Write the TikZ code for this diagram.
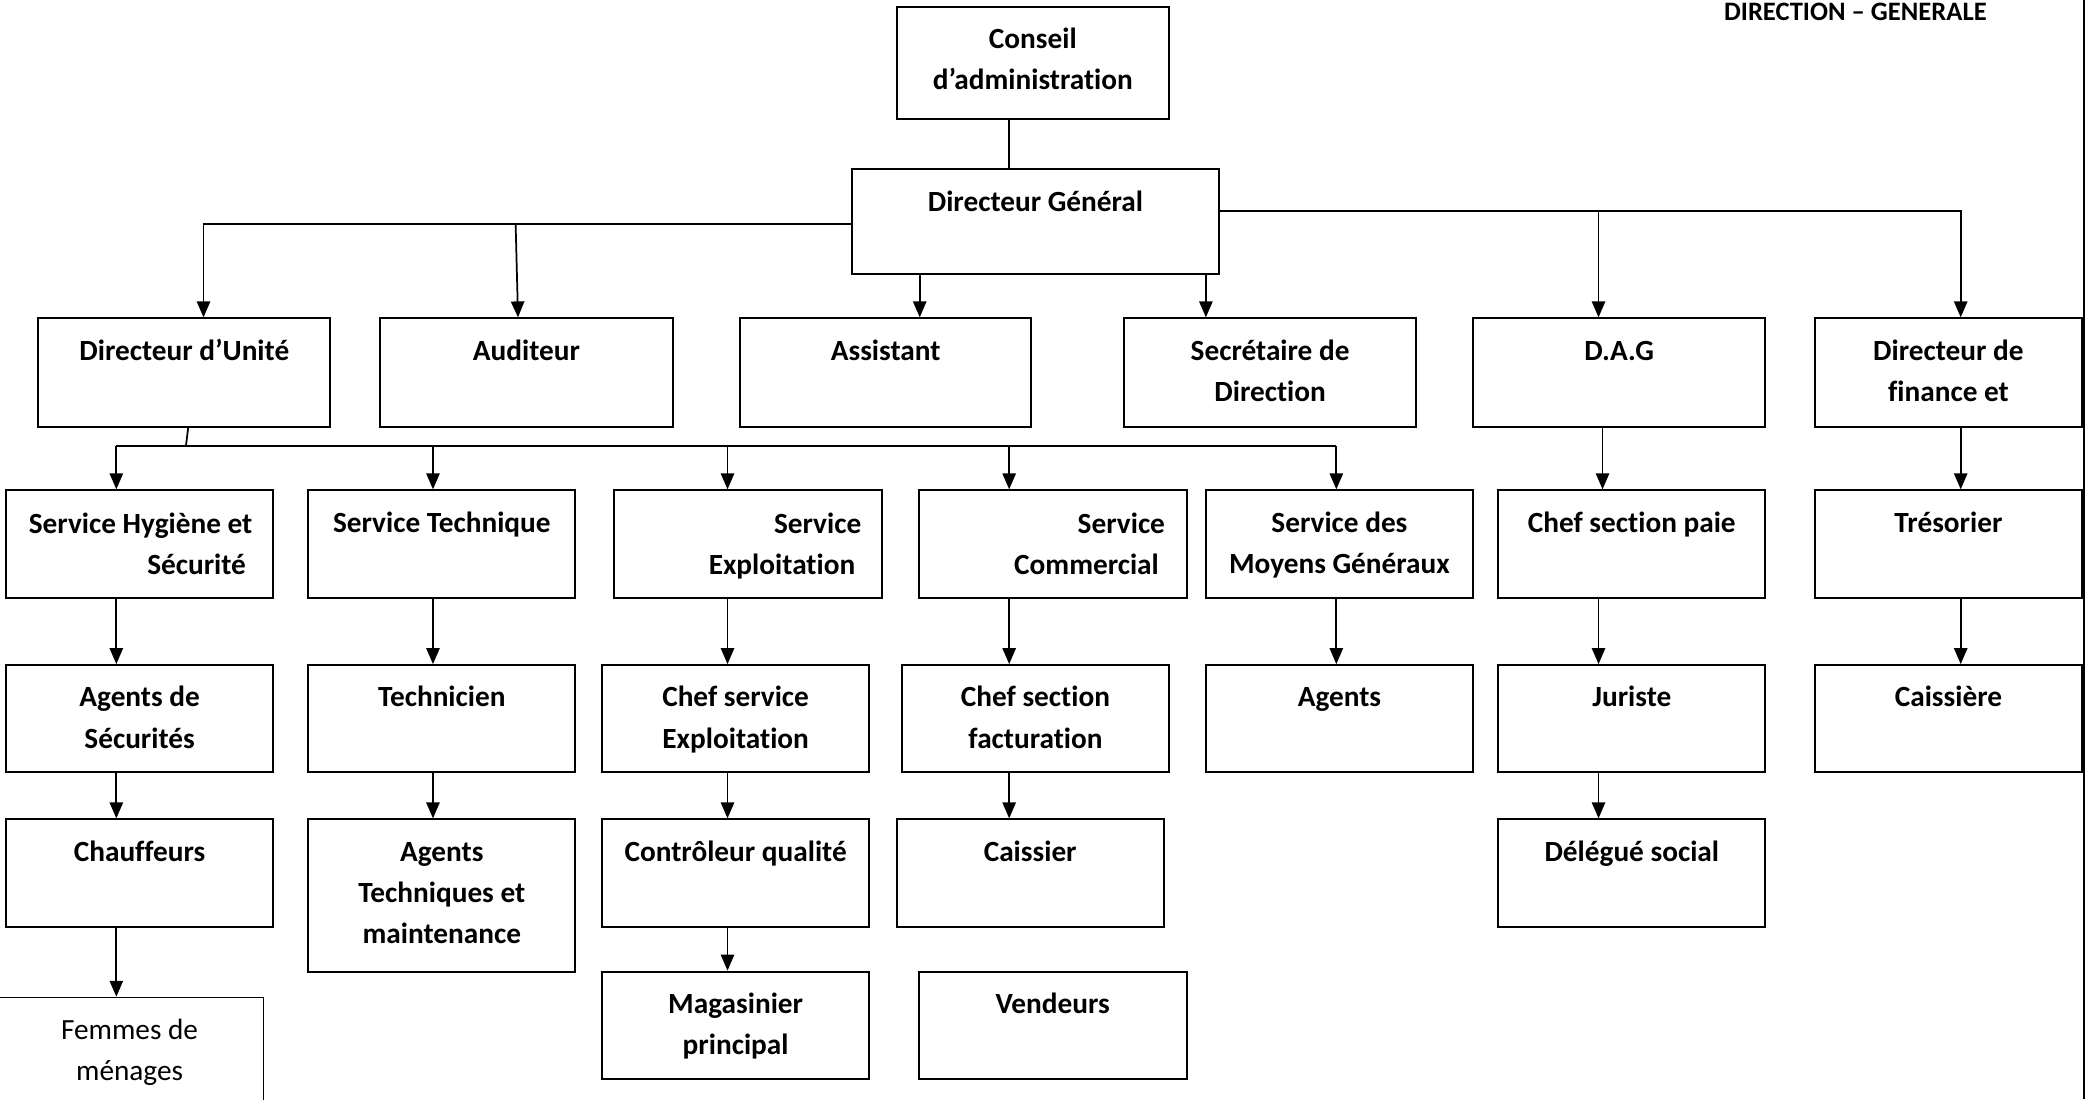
\documentclass[tikz,border=0pt]{standalone}
\usepackage{fontspec}
\setmainfont{Carlito}[Ligatures={NoCommon}]
\usetikzlibrary{arrows.meta}

\tikzset{
  box/.style={draw=black, line width=1.5pt, rectangle, inner sep=0pt},
  thinbox/.style={draw=black, line width=0.9pt, rectangle, inner sep=0pt},
  lbl/.style={inner sep=0pt, align=center, font=\fontsize{22}{31}\selectfont\bfseries},
  conn/.style={draw=black, line width=1.3pt},
  arr/.style={conn, -{Triangle[length=12pt, width=10pt]}},
}
% strut fixing the height of a label's first line
\newcommand\fl{\rule{0pt}{17pt}}
% \obox[style]{name}{x1}{y1}{x2}{y2}: empty framed box between two corners
\newcommand\obox[6][box]{%
  \node[#1, minimum width={(#5-#3)*1pt}, minimum height={(#6-#4)*1pt}] (#2)
    at ({(#3+#5)/2},{(#4+#6)/2}) {};}
% \olab{name}{text}: label hanging from the top edge of a box
\newcommand\olab[2]{\node[lbl, anchor=north] (#1-l) at ([yshift=-15pt]#1.north) {\fl #2};}

\begin{document}
\begin{tikzpicture}[x=1pt, y=-1pt]
\useasboundingbox (0,0) rectangle (1568,826);
\clip (0,0) rectangle (1568,826);

% ---- top of the hierarchy
\obox{conseil}{673.7}{5}{878.3}{89.6}
\olab{conseil}{Conseil\\d’administration}
\obox{dg}{640}{127.2}{915.9}{205.9}
\olab{dg}{Directeur Général}

% ---- first level
\obox{unite}{28.7}{239.2}{248.3}{320.6}
\olab{unite}{Directeur d’Unité}
\obox{auditeur}{285.7}{239.2}{505.3}{320.6}
\olab{auditeur}{Auditeur}
\obox{assistant}{555.9}{239.2}{774.9}{320.6}
\olab{assistant}{Assistant}
\obox{secretaire}{844.4}{239.2}{1064.1}{320.6}
\olab{secretaire}{Secrétaire de\\Direction}
\obox{dag}{1106.7}{239.2}{1326.4}{320.6}
\olab{dag}{D.A.G}
\obox{finance}{1363.8}{239.2}{1564}{320.6}
\olab{finance}{Directeur de\\finance et}

% ---- services
\obox{hygiene}{4.6}{368.4}{205.2}{449.2}
\node[lbl, align=right, anchor=north east] (hygiene-l) at (189.8,383.4)
  {\fl Service Hygiène et\\Sécurité\hspace*{4.8pt}};
\obox{technique}{231.6}{368.4}{432.3}{449.2}
\olab{technique}{Service Technique}
\obox{exploitation}{461.6}{368.4}{662.7}{449.2}
\node[lbl, align=right, anchor=north east] (exploitation-l) at (647.3,383.4)
  {\fl Service\\Exploitation\hspace*{4.6pt}};
\obox{commercial}{690.3}{368.4}{891.5}{449.2}
\node[lbl, align=right, anchor=north east] (commercial-l) at (875.5,383.4)
  {\fl Service\\Commercial\hspace*{4.6pt}};
\obox{moyens}{906}{368.4}{1106.7}{449.2}
\olab{moyens}{Service des\\Moyens Généraux}
\obox{paie}{1125.6}{368.4}{1326.4}{449.2}
\olab{paie}{Chef section paie}
\obox{tresorier}{1363.8}{368.4}{1564}{449.2}
\olab{tresorier}{Trésorier}

% ---- third level
\obox{agsec}{4.6}{499.7}{205.2}{580.1}
\olab{agsec}{Agents de\\Sécurités}
\obox{technicien}{231.6}{499.7}{432.3}{580.1}
\olab{technicien}{Technicien}
\obox{chefexpl}{452.4}{499.7}{653}{580.1}
\olab{chefexpl}{Chef service\\Exploitation}
\obox{facturation}{677.7}{499.7}{878.3}{580.1}
\olab{facturation}{Chef section\\facturation}
\obox{agents}{906}{499.7}{1106.7}{580.1}
\olab{agents}{Agents}
\obox{juriste}{1125.6}{499.7}{1326.4}{580.1}
\olab{juriste}{Juriste}
\obox{caissiere}{1363.8}{499.7}{1564}{580.1}
\olab{caissiere}{Caissière}

% ---- fourth level
\obox{chauffeurs}{4.6}{615.6}{205.2}{696.1}
\olab{chauffeurs}{Chauffeurs}
\obox{agtech}{231.6}{615.6}{432.3}{730}
\olab{agtech}{Agents\\Techniques et\\maintenance}
\obox{controle}{452.4}{615.6}{653}{696.1}
\olab{controle}{Contrôleur qualité}
\obox{caissier}{673.7}{615.6}{874.3}{696.1}
\olab{caissier}{Caissier}
\obox{delegue}{1125.6}{615.6}{1326.4}{696.1}
\olab{delegue}{Délégué social}

% ---- fifth level
\obox[thinbox]{femmes}{-3}{749.3}{197.7}{860}
\node[lbl, font=\fontsize{22}{31}\selectfont, anchor=north] (femmes-l)
  at ([yshift=-15pt]femmes.north) {\fl Femmes de\\ménages};
\obox{magasinier}{452.4}{730}{653}{810.8}
\olab{magasinier}{Magasinier\\principal}
\obox{vendeurs}{690.3}{730}{891.5}{810.8}
\olab{vendeurs}{Vendeurs}

% ---- heading and page rule
\node[inner sep=0pt, anchor=base, font=\fontsize{20}{24}\selectfont\bfseries] (titre)
  at (1394,15.5) {DIRECTION – GENERALE};
\coordinate (rt) at (1565.9,0);
\coordinate (rb) at (1565.9,826);
\draw[conn, line width=1.4pt] (rt) -- (rb);

% ---- connector columns
\coordinate (xa) at (87.4,0);
\coordinate (xb) at (325.3,0);
\coordinate (xc) at (546.6,0);
\coordinate (xd) at (758.2,0);
\coordinate (xe) at (1004,0);
\coordinate (xf) at (1201,0);
\coordinate (xh) at (1204,0);
\coordinate (xg) at (1473.1,0);
\coordinate (xas) at (691,0);
\coordinate (xse) at (906,0);
\coordinate (xau) at (389.2,0);

% ---- connectors from the top
\draw[conn] (conseil.south -| xd) -- (dg.north -| xd);
\coordinate (jl) at (152.9,168.3);
\draw[arr] (dg.west |- jl) -| (unite.north -| jl);
\coordinate (ja) at (387.4,168.3);
\draw[arr] (ja) -- (auditeur.north -| xau);
\draw[arr] (dg.south -| xas) -- (assistant.north -| xas);
\draw[arr] (dg.south -| xse) -- (secretaire.north -| xse);
\coordinate (jr) at (1473.1,158.8);
\draw[arr] (dg.east |- jr) -| (finance.north -| jr);
\draw[arr] (xf |- jr) -- (dag.north -| xf);

% ---- services bus under the unit director
\coordinate (bus) at (139.7,335.1);
\draw[conn] ([xshift=2.9pt]unite.south) -- (bus);
\draw[conn] (xa |- bus) -- (xe |- bus);
\foreach \t/\c in {hygiene/xa, technique/xb, exploitation/xc, commercial/xd, moyens/xe}
  \draw[arr] (\c |- bus) -- (\t.north -| \c);

% ---- vertical chains
\foreach \a/\b/\c in {hygiene/agsec/xa, agsec/chauffeurs/xa, chauffeurs/femmes/xa,
    technique/technicien/xb, technicien/agtech/xb,
    exploitation/chefexpl/xc, chefexpl/controle/xc, controle/magasinier/xc,
    commercial/facturation/xd, facturation/caissier/xd,
    moyens/agents/xe, dag/paie/xh, paie/juriste/xf, juriste/delegue/xf,
    finance/tresorier/xg, tresorier/caissiere/xg}
  \draw[arr] (\a.south -| \c) -- (\b.north -| \c);
\end{tikzpicture}
\end{document}
